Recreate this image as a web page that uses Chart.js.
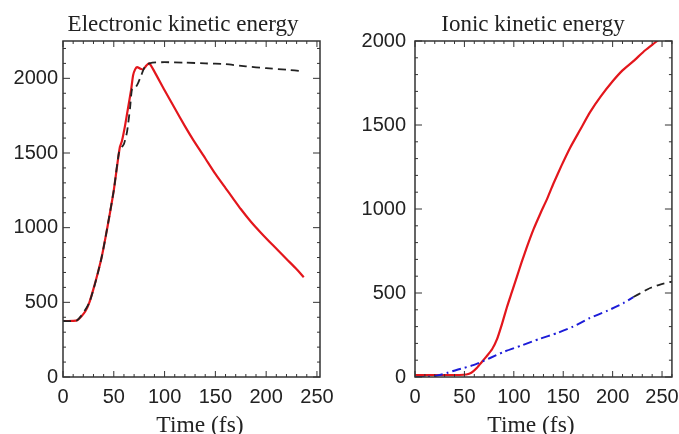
<!DOCTYPE html>
<html>
<head>
<meta charset="utf-8">
<script src="https://cdn.jsdelivr.net/npm/chart.js@4"></script>
<style>
  body { margin: 0; background: #fff; }
  canvas { position: absolute; top: 0; }
  #elec { left: 0; }
  #ion { left: 340px; }
</style>
</head>
<body>
<canvas id="elec" width="340" height="434"></canvas>
<canvas id="ion" width="339" height="434"></canvas>
<script>
// Electronic kinetic energy (left)
const elecRedTime = [0, 5, 10, 14, 18, 22, 26, 30, 34, 38, 42, 46, 50, 54, 56, 58, 61, 64, 67, 69, 71, 73, 76, 79, 82, 85, 90, 100, 110, 120, 128, 140, 150, 160, 167, 175, 185, 195, 207, 220, 230, 237];
const elecRed = [375, 375, 376, 380, 405, 440, 500, 590, 690, 800, 940, 1090, 1250, 1450, 1540, 1580, 1680, 1800, 1920, 2020, 2060, 2075, 2065, 2060, 2085, 2100, 2045, 1920, 1800, 1680, 1590, 1465, 1360, 1265, 1200, 1125, 1040, 965, 880, 790, 722, 668];
const elecBlackTime = [0, 14, 26, 38, 50, 55, 58, 60, 63, 66, 68, 71, 74, 77, 80, 83, 88, 100, 120, 140, 160, 180, 200, 220, 236];
const elecBlack = [375, 380, 500, 800, 1250, 1500, 1540, 1560, 1640, 1800, 1930, 1935, 1970, 2020, 2070, 2095, 2105, 2108, 2105, 2100, 2095, 2080, 2068, 2058, 2048];

// Ionic kinetic energy (right)
const ionRedTime = [0, 25, 45, 52, 57, 62, 67, 72, 78, 83, 88, 93, 98, 103, 108, 113, 120, 127, 134, 140, 148, 157, 167, 177, 188, 200, 210, 221, 233, 245, 252];
const ionRed = [12, 12, 12, 15, 25, 50, 85, 120, 165, 225, 315, 415, 505, 595, 685, 770, 880, 975, 1065, 1150, 1255, 1365, 1470, 1575, 1670, 1760, 1825, 1880, 1945, 2000, 2035];
const ionBlueTime = [0, 10, 20, 25, 33, 42, 50, 59, 67, 76, 90, 109, 125, 144, 160, 177, 195, 211, 221];
const ionBlue = [0, 0, 5, 12, 25, 42, 55, 71, 90, 113, 150, 190, 225, 262, 300, 351, 395, 440, 476];
const ionBlackTime = [221, 230, 238, 248, 258, 260];
const ionBlack = [476, 505, 530, 550, 565, 568];

const xTicks = [0, 50, 100, 150, 200, 250];
const yTicks = [0, 500, 1000, 1500, 2000];

const pts = (xs, ys) => xs.map((x, i) => ({ x: x, y: ys[i] }));

const framePlugin = {
  id: 'frame',
  afterDraw(chart, args, opts) {
    const { ctx, chartArea: a, scales: { x, y } } = chart;
    ctx.save();
    ctx.strokeStyle = '#333';
    ctx.lineWidth = 1;
    ctx.beginPath();
    for (let v = 0; v <= x.max; v += 10) {
      const px = x.getPixelForValue(v);
      const len = v % 50 === 0 ? 6 : 3;
      ctx.moveTo(px, a.bottom); ctx.lineTo(px, a.bottom - len);
      ctx.moveTo(px, a.top); ctx.lineTo(px, a.top + len);
    }
    for (let v = 0; v <= y.max; v += 100) {
      const py = y.getPixelForValue(v);
      const len = v % 500 === 0 ? 7 : 3;
      ctx.moveTo(a.left, py); ctx.lineTo(a.left + len, py);
      ctx.moveTo(a.right, py); ctx.lineTo(a.right - len, py);
    }
    ctx.stroke();
    ctx.lineWidth = 1.5;
    ctx.strokeRect(a.left, a.top, a.right - a.left, a.bottom - a.top);
    ctx.fillStyle = '#222';
    ctx.textAlign = 'center';
    ctx.textBaseline = 'alphabetic';
    ctx.font = '23px "Liberation Serif"';
    ctx.fillText(opts.title, opts.titleX, 31);
    ctx.font = '23.5px "Liberation Serif"';
    ctx.fillText('Time (fs)', opts.xTitleX, 432);
    ctx.restore();
  }
};

function makeChart(id, datasets, cfg) {
  return new Chart(document.getElementById(id), {
    type: 'line',
    data: { datasets: datasets },
    options: {
      responsive: false,
      animation: false,
      layout: { padding: { top: 41, right: cfg.padRight, bottom: 0, left: 0 } },
      elements: { point: { radius: 0 }, line: { tension: 0.2 } },
      plugins: {
        legend: { display: false },
        tooltip: { enabled: false },
        frame: { title: cfg.title, titleX: cfg.titleX, xTitleX: cfg.xTitleX }
      },
      scales: {
        x: {
          type: 'linear',
          min: 0,
          max: cfg.xMax,
          grid: { display: false },
          border: { display: false },
          afterFit: s => { s.height = 57; },
          afterBuildTicks: s => { s.ticks = xTicks.map(v => ({ value: v })); },
          ticks: { autoSkip: false, maxRotation: 0, padding: 0, color: '#222', callback: v => String(v), font: { family: 'Liberation Sans', size: 20 } }
        },
        y: {
          min: 0,
          max: cfg.yMax,
          grid: { display: false },
          border: { display: false },
          afterFit: s => { s.width = cfg.yWidth; },
          afterBuildTicks: s => { s.ticks = yTicks.map(v => ({ value: v })); },
          ticks: { padding: cfg.yPad, color: '#222', callback: v => String(v), font: { family: 'Liberation Sans', size: 20 } }
        }
      }
    },
    plugins: [framePlugin]
  });
}

makeChart('elec', [
  { data: pts(elecBlackTime, elecBlack), borderColor: '#222', borderWidth: 1.8, borderDash: [8, 5] },
  { data: pts(elecRedTime, elecRed), borderColor: '#e3161c', borderWidth: 2.2 }
], { xMax: 253, yMax: 2250, yWidth: 63, yPad: -3, padRight: 20, title: 'Electronic kinetic energy', titleX: 183, xTitleX: 200 });

makeChart('ion', [
  { data: pts(ionBlackTime, ionBlack), borderColor: '#222', borderWidth: 1.8, borderDash: [8, 5] },
  { data: pts(ionBlueTime, ionBlue), borderColor: '#1c1cd8', borderWidth: 2, borderDash: [9, 4, 2, 4] },
  { data: pts(ionRedTime, ionRed), borderColor: '#e3161c', borderWidth: 2.2 }
], { xMax: 260, yMax: 2000, yWidth: 75, yPad: 1, padRight: 7, title: 'Ionic kinetic energy', titleX: 193, xTitleX: 191 });
</script>
</body>
</html>
